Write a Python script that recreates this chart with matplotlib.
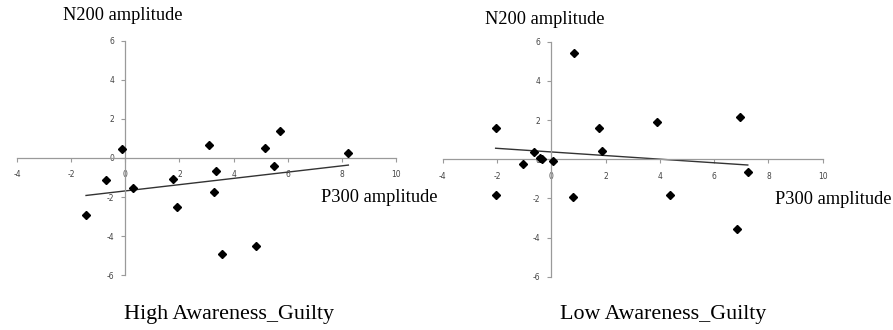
import numpy as np
import matplotlib.pyplot as plt

plt.rcParams['axes.unicode_minus'] = False

# High Awareness_Guilty
high_p300 = [-1.45, -0.71, -0.12, 0.30, 1.76, 1.90, 3.08, 3.34, 3.28, 3.58, 4.84, 5.15, 5.48, 5.71, 8.24]
high_n200 = [-2.93, -1.14, 0.48, -1.55, -1.06, -2.49, 0.65, -0.68, -1.74, -4.91, -4.50, 0.53, -0.43, 1.36, 0.24]

# Low Awareness_Guilty
low_p300 = [-2.05, -2.05, -1.06, -0.64, -0.42, -0.33, 0.07, 0.84, 0.81, 1.76, 1.86, 3.89, 4.36, 6.84, 6.95, 7.24]
low_n200 = [1.59, -1.83, -0.25, 0.38, 0.08, 0.02, -0.09, 5.42, -1.95, 1.59, 0.43, 1.88, -1.83, -3.58, 2.14, -0.66]

x_ticks = [-4, -2, 0, 2, 4, 6, 8, 10]
y_ticks = [-6, -4, -2, 0, 2, 4, 6]

W, H = 893, 330
SERIF = ['Liberation Serif', 'DejaVu Serif']


def px(x, y):
    return x / W, 1 - y / H


def draw_panel(rect, xs, ys, title, title_pos, ylab_pos, xlab_pos):
    ax = fig.add_axes(rect)
    ax.set_xlim(-4, 10)
    ax.set_ylim(-6, 6)
    for side in ['top', 'right']:
        ax.spines[side].set_visible(False)
    for side in ['left', 'bottom']:
        ax.spines[side].set_position(('data', 0))
        ax.spines[side].set_color('#9a9a9a')
        ax.spines[side].set_linewidth(0.9)
    ax.set_xticks(x_ticks)
    ax.set_yticks(y_ticks)
    ax.tick_params(axis='both', direction='out', length=3, width=0.8,
                   color='#9a9a9a', labelsize=5.5, labelcolor='#444444')
    ax.tick_params(axis='x', pad=6)
    ax.tick_params(axis='y', pad=5)
    ax.patch.set_alpha(0)

    ax.plot(xs, ys, 'D', color='black', markersize=4.2, zorder=3)

    # linear trendline over data range
    k, b = np.polyfit(xs, ys, 1)
    xl = np.array([min(xs), max(xs)])
    ax.plot(xl, k * xl + b, color='#333333', linewidth=1.0, zorder=2)

    fig.text(*px(*ylab_pos), 'N200 amplitude', family=SERIF, fontsize=13.2,
             ha='left', va='center')
    fig.text(*px(*xlab_pos), 'P300 amplitude', family=SERIF, fontsize=13.2,
             ha='left', va='center')
    fig.text(*px(*title_pos), title, family=SERIF, fontsize=15.8,
             ha='center', va='center')
    return ax


fig = plt.figure(figsize=(W / 100, H / 100), dpi=100)

draw_panel([17 / W, 1 - 275.3 / H, 379 / W, 234.7 / H],
           high_p300, high_n200, 'High Awareness_Guilty',
           (229, 314), (63, 16), (321, 197))
draw_panel([442.7 / W, 1 - 276.7 / H, 380 / W, 235 / H],
           low_p300, low_n200, 'Low Awareness_Guilty',
           (663, 314), (485, 20), (775, 200))

fig.savefig('out.png', dpi=100)
